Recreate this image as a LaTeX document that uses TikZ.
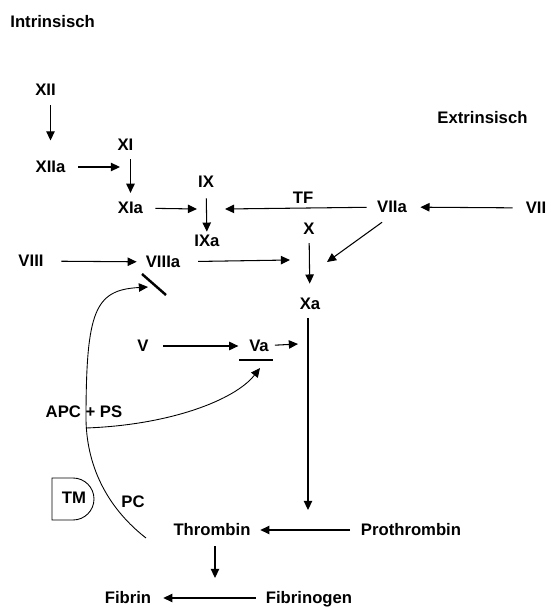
\documentclass[tikz,border=0pt]{standalone}
\usepackage{fontspec}
\setmainfont{Liberation Sans}
\usetikzlibrary{arrows.meta, positioning}

\begin{document}
\begin{tikzpicture}[
  fac/.style={font=\bfseries\fontsize{9.5}{11}\selectfont, inner sep=1pt,
              text height=6.8pt, text depth=0pt},
  arr/.style={-{Triangle[length=5.2pt, width=4.8pt]}, line width=0.6pt},
  inhib/.style={line width=1.4pt},
  curve/.style={line width=0.5pt},
]
\useasboundingbox (0,0) rectangle (11.02,12.14);

% --- headings ---
\node[fac, anchor=west] (intr) at (0.165, 11.70) {Intrinsisch};
\node[fac] (extr) at (9.65, 9.78) {Extrinsisch};

% --- intrinsic path ---
\node[fac] (f12) at (0.91, 10.34) {XII};
\node[fac] (f12a) at (1.01, 8.80) {XIIa};
\node[fac] (f11) at (2.51, 9.24) {XI};
\node[fac] (f11a) at (2.61, 7.98) {XIa};
\node[fac] (f9) at (4.12, 8.50) {IX};
\node[fac] (f9a) at (4.14, 7.32) {IXa};
\node[fac] (f8) at (0.62, 6.92) {VIII};
\node[fac] (f8a) at (3.26, 6.90) {VIIIa};

% --- extrinsic path ---
\node[fac] (f7) at (10.72, 7.98) {VII};
\node[fac] (f7a) at (7.84, 8.00) {VIIa};
\node[fac] (tf) at (6.06, 8.18) {TF};

% --- common path ---
\node[fac] (f10) at (6.18, 7.56) {X};
\node[fac] (f10a) at (6.20, 6.06) {Xa};
\node[fac] (f5) at (2.86, 5.22) {V};
\node[fac] (f5a) at (5.18, 5.22) {Va};
\node[fac] (pthr) at (8.22, 1.54) {Prothrombin};
\node[fac] (thr) at (4.24, 1.54) {Thrombin};
\node[fac] (fbg) at (6.18, 0.18) {Fibrinogen};
\node[fac] (fbn) at (2.56, 0.18) {Fibrin};

% --- protein C ---
\node[fac] (apc) at (1.68, 3.90) {APC + PS};
\node[fac] (tm) at (1.48, 2.18) {TM};
\node[fac] (pc) at (2.66, 2.10) {PC};
\draw[curve] (1.04,2.58) -- (1.46,2.58) arc[start angle=90, end angle=-90, radius=0.42]
  -- (1.04,1.74) -- cycle;

% free ends
\coordinate (c11) at (2.40, 8.80);
\coordinate (c9) at (3.94, 7.96);
\coordinate (c9b) at (4.50, 7.96);
\coordinate (c10) at (6.54, 6.90);
\coordinate (c10b) at (5.80, 6.94);
\coordinate (c10c) at (5.96, 5.26);
\coordinate (cthr) at (6.16, 1.94);
\coordinate (cfbn) at (4.30, 0.58);
\coordinate (pcs) at (2.92, 1.38);
\coordinate (pcm) at (1.72, 3.74);
\coordinate (c8i) at (2.96, 6.40);
\coordinate (apcf) at (1.72, 3.58);
\coordinate (c5i) at (5.20, 4.78);

\draw[arr, shorten <=4pt, shorten >=10.5pt] (f12a |- f12.south) -- (f12a);
\draw[arr, shorten <=6pt] (f12a) -- (c11);
\draw[arr, shorten <=3.5pt, shorten >=4pt] (f11a |- f11.south) -- (f11a);
\draw[arr, shorten <=5.8pt] (f11a) -- (c9);
\draw[arr, shorten <=4.7pt, shorten >=0.7pt] (f9) -- (f9a);
\draw[arr, shorten <=4.8pt] (f7a) -- (c9b);
\draw[arr, shorten <=6.3pt, shorten >=6.5pt] (f7) -- (f7a);
\draw[arr, shorten <=7pt] (f7a.south) -- (c10);
\draw[arr, shorten <=3.5pt, shorten >=7pt] (f10) -- (f10a);
\draw[arr, shorten <=9pt, shorten >=4pt] (f8) -- (f8a);
\draw[arr, shorten <=9pt] (f8a) -- (c10b);
\draw[arr, shorten <=7pt, shorten >=5pt] (f5) -- (f5a);
\draw[arr, shorten <=2.3pt] (f5a) -- (c10c);
\draw[arr, shorten <=3.5pt] (f10a.south -| cthr) -- (cthr);
\draw[arr, shorten <=5pt, shorten >=4.4pt] (pthr) -- (thr);
\draw[arr, shorten <=4.7pt] (cfbn |- thr.south) -- (cfbn);
\draw[arr, shorten <=4.6pt, shorten >=5.7pt] (fbg) -- (fbn);

% inhibition
\draw[inhib] (2.84, 6.66) -- (3.32, 6.24);
\draw[inhib] (4.78, 4.94) -- (5.46, 4.94);
\draw[curve, arr, line width=0.5pt] (pcs) .. controls (2.20,1.94) and (1.74,2.74) .. (pcm)
  .. controls (1.72,5.94) and (1.90,6.34) .. (c8i);
\draw[curve, arr, line width=0.5pt] (apcf) .. controls (3.40,3.64) and (4.70,4.14) .. (c5i);

\end{tikzpicture}
\end{document}
